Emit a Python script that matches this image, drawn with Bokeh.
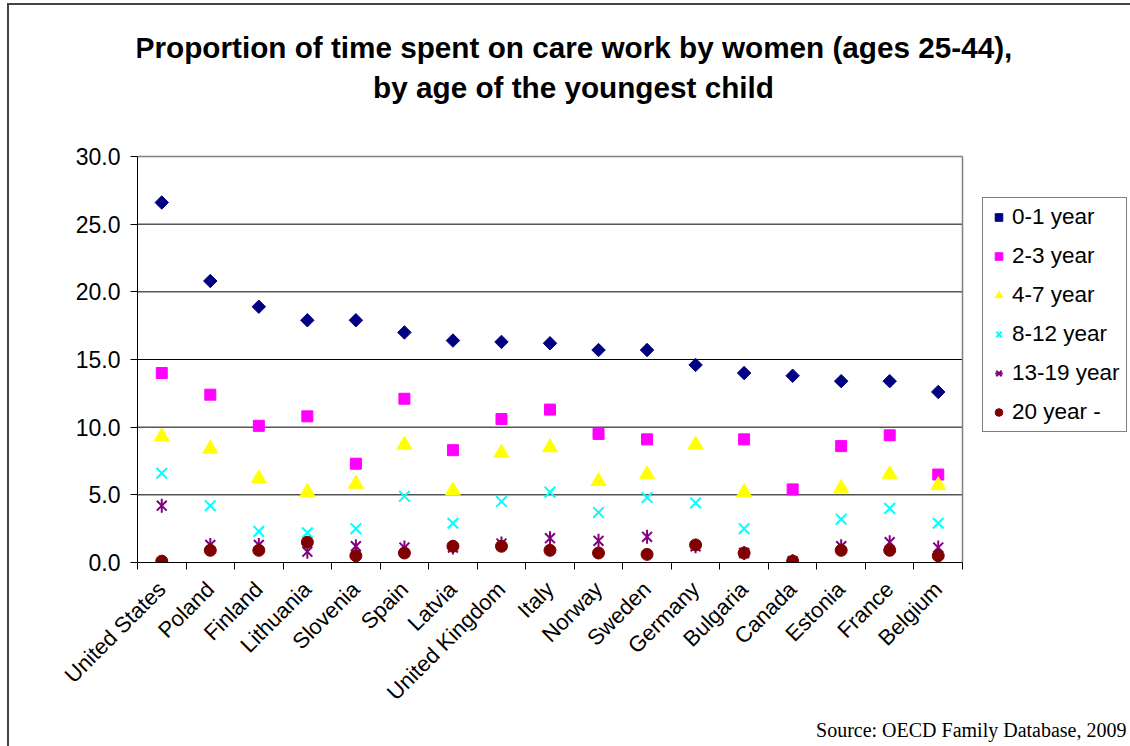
import math
from bokeh.plotting import figure
from bokeh.models import (Range1d, FixedTicker, Legend, LegendItem, Title, Label, NumeralTickFormatter)
from bokeh.embed import file_html
from bokeh.resources import INLINE

countries = ["United States", "Poland", "Finland", "Lithuania", "Slovenia", "Spain", "Latvia",
             "United Kingdom", "Italy", "Norway", "Sweden", "Germany", "Bulgaria", "Canada",
             "Estonia", "France", "Belgium"]
age_0_1 = [26.6, 20.8, 18.9, 17.9, 17.9, 17.0, 16.4, 16.3, 16.2, 15.7, 15.7, 14.6, 14.0, 13.8, 13.4, 13.4, 12.6]
age_2_3 = [14.0, 12.4, 10.1, 10.8, 7.3, 12.1, 8.3, 10.6, 11.3, 9.5, 9.1, float("nan"), 9.1, 5.4, 8.6, 9.4, 6.5]
age_4_7 = [9.3, 8.4, 6.2, 5.2, 5.8, 8.7, 5.3, 8.1, 8.5, 6.0, 6.5, 8.7, 5.2, 0.0, 5.5, 6.5, 5.7]
age_8_12 = [6.6, 4.2, 2.3, 2.2, 2.5, 4.9, 2.9, 4.5, 5.2, 3.7, 4.8, 4.4, 2.5, 0.0, 3.2, 4.0, 2.9]
age_13_19 = [4.2, 1.3, 1.3, 0.8, 1.2, 1.1, 1.1, 1.4, 1.8, 1.6, 1.9, 1.2, 0.7, 0.1, 1.2, 1.5, 1.1]
age_20_plus = [0.1, 0.9, 0.9, 1.5, 0.5, 0.7, 1.2, 1.2, 0.9, 0.7, 0.6, 1.3, 0.7, 0.1, 0.9, 0.9, 0.5]
series_labels = ["0-1 year", "2-3 year", "4-7 year", "8-12 year", "13-19 year", "20 year -"]
y_ticks = [0, 5, 10, 15, 20, 25, 30]
title_lines = ["Proportion of time spent on care work by women (ages 25-44),",
               "by age of the youngest child"]
source_text = "Source: OECD Family Database, 2009"

FONT = "Liberation Sans"
n = len(countries)
xs = list(range(n))
y_max = y_ticks[-1]

# layout geometry (pixels)
W, H = 1130, 746
LEFT, BOTTOM = 137, 184
PLOT_W, PLOT_H = 825, 406          # visible plotting area
FRAME_W, FRAME_H = W - LEFT - 2, H - BOTTOM
x_end = -0.5 + FRAME_W / (PLOT_W / n)
y_end = y_max * FRAME_H / PLOT_H

p = figure(width=W, height=H, output_backend="svg", toolbar_location=None,
           x_range=Range1d(-0.5, x_end), y_range=Range1d(0, y_end),
           min_border_left=LEFT, min_border_right=2, min_border_top=0, min_border_bottom=BOTTOM)
p.styles = {"box-shadow": "inset 7px 3px 0 0 #ffffff, inset 9px 5px 0 0 #444444"}
p.background_fill_color = None
p.border_fill_color = None
p.outline_line_color = None

# y axis
p.yaxis.ticker = FixedTicker(ticks=y_ticks)
p.yaxis.bounds = (0, y_max)
p.yaxis.formatter = NumeralTickFormatter(format="0.0")
p.yaxis.major_label_text_font = FONT
p.yaxis.major_label_text_font_size = "23px"
p.yaxis.major_label_text_color = "black"
p.yaxis.major_tick_in = 0
p.yaxis.major_tick_out = 7
p.yaxis.minor_tick_line_color = None
p.yaxis.axis_line_color = "black"
p.yaxis.major_label_standoff = 10

# x axis: labels at category centres, tick marks between categories
p.xaxis.ticker = FixedTicker(ticks=xs, minor_ticks=[i - 0.5 for i in range(n + 1)])
p.xaxis.bounds = (-0.5, n - 0.5)
p.xaxis.major_label_overrides = {i: c for i, c in zip(xs, countries)}
p.xaxis.major_label_orientation = math.pi / 4
p.xaxis.major_label_text_font = FONT
p.xaxis.major_label_text_font_size = "22px"
p.xaxis.major_label_text_color = "black"
p.xaxis.major_tick_in = 0
p.xaxis.major_tick_out = 0
p.xaxis.minor_tick_in = 0
p.xaxis.minor_tick_out = 7
p.xaxis.minor_tick_line_color = "black"
p.xaxis.axis_line_color = "black"
p.xaxis.major_label_standoff = 16

p.xgrid.grid_line_color = None
p.ygrid.grid_line_color = None

# gridlines and plot-area border limited to the plotting area
grid_y = y_ticks[1:-1]
p.segment(x0=[-0.5] * len(grid_y), x1=[n - 0.5] * len(grid_y), y0=grid_y, y1=grid_y,
          line_color="black", line_width=1)
p.segment(x0=[-0.5, n - 0.5], x1=[n - 0.5, n - 0.5], y0=[y_max, 0], y1=[y_max, y_max],
          line_color="#808080", line_width=1.5)

r1 = p.scatter(xs, age_0_1, marker="square", angle=math.pi / 4, size=9.5,
               fill_color="#000080", line_color="#000080")
r2 = p.scatter(xs, age_2_3, marker="square", size=11, fill_color="#FF00FF", line_color="#FF00FF")
r3 = p.scatter(xs, age_4_7, marker="triangle", size=15, fill_color="#FFFF00", line_color="#FFFF00")
r4 = p.scatter(xs, age_8_12, marker="x", size=15, line_color="#00FFFF", line_width=2)
r5a = p.scatter(xs, age_13_19, marker="x", size=14, line_color="#800080", line_width=2)
r5b = p.scatter(xs, age_13_19, marker="dash", angle=math.pi / 2, size=14, line_color="#800080", line_width=2)
r6 = p.scatter(xs, age_20_plus, marker="circle", size=12, fill_color="#800000", line_color="#800000")

legend = Legend(items=[LegendItem(label=series_labels[0], renderers=[r1]),
                       LegendItem(label=series_labels[1], renderers=[r2]),
                       LegendItem(label=series_labels[2], renderers=[r3]),
                       LegendItem(label=series_labels[3], renderers=[r4]),
                       LegendItem(label=series_labels[4], renderers=[r5a, r5b]),
                       LegendItem(label=series_labels[5], renderers=[r6])],
                location=(845, 130))
legend.label_text_font = FONT
legend.label_text_font_size = "22.5px"
legend.label_text_color = "black"
legend.glyph_width = 19
legend.glyph_height = 24
legend.label_height = 20
legend.spacing = 13
legend.padding = 6
legend.margin = 0
legend.label_standoff = 4
legend.border_line_color = "black"
legend.border_line_width = 1
legend.background_fill_color = "white"
legend.background_fill_alpha = 1
p.add_layout(legend, "center")

for txt, yy in zip(title_lines, [FRAME_H - 47, FRAME_H - 87]):
    p.add_layout(Label(x=436, y=yy, x_units="screen", y_units="screen", text=txt,
                       text_font=FONT, text_font_style="bold", text_font_size="29.7px",
                       text_align="center", text_baseline="middle", text_color="black"))

src = Title(text=source_text, align="right", offset=2, text_font="Liberation Serif",
            text_font_style="normal", text_font_size="20px", text_color="black", standoff=0)
p.add_layout(src, "below")

open("out.html", "w").write(file_html(p, INLINE))
